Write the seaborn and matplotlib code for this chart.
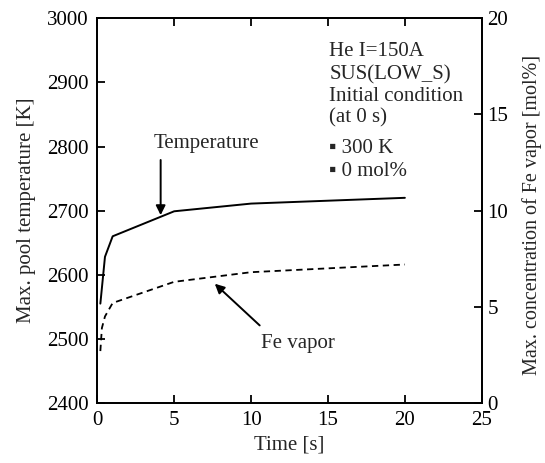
import matplotlib
matplotlib.use("Agg")
import matplotlib.pyplot as plt
import seaborn as sns
import pandas as pd

# Time history of max pool temperature and max Fe vapor concentration
time_temp = [0.2, 0.5, 1.0, 5.0, 10.0, 20.0]
temperature = [2555, 2628, 2660, 2699, 2711, 2720]

time_fe = [0.2, 0.3, 0.5, 1.0, 5.0, 10.0, 20.0]
fe_vapor = [2.7, 3.9, 4.5, 5.2, 6.3, 6.8, 7.2]

x_ticks = [0, 5, 10, 15, 20, 25]
t_ticks = [2400, 2500, 2600, 2700, 2800, 2900, 3000]
c_ticks = [0, 5, 10, 15, 20]

condition_lines = ["He I=150A", "SUS(LOW_S)", "Initial condition", "(at 0 s)"]
initial_values = ["\u25aa 300 K", "\u25aa 0 mol%"]

FS = 15

sns.set_theme(style="ticks")
plt.rcParams["font.family"] = ["Liberation Serif", "DejaVu Serif"]
plt.rcParams["font.size"] = FS

fig = plt.figure(figsize=(5.45, 4.63), dpi=100)
ax = fig.add_axes([0.1785, 0.1296, 0.7055, 0.8309])
ax2 = ax.twinx()

df_t = pd.DataFrame({"time": time_temp, "temp": temperature})
df_c = pd.DataFrame({"time": time_fe, "conc": fe_vapor})

sns.lineplot(data=df_t, x="time", y="temp", ax=ax, color="black", lw=1.4,
             sort=False, estimator=None)
sns.lineplot(data=df_c, x="time", y="conc", ax=ax2, color="black", lw=1.3,
             sort=False, estimator=None, linestyle=(0, (3.5, 2.5)))

ax.set_xlim(0, 25)
ax.set_ylim(2400, 3000)
ax2.set_ylim(0, 20)
ax.set_xticks(x_ticks)
ax.set_yticks(t_ticks)
ax2.set_yticks(c_ticks)

for spine in list(ax.spines.values()) + list(ax2.spines.values()):
    spine.set_linewidth(1.3)
    spine.set_color("black")
    spine.set_visible(True)

ax.tick_params(axis="x", direction="in", length=6, width=1.3, top=True,
               bottom=True, pad=6, labelsize=FS, colors="black")
ax.tick_params(axis="y", direction="in", length=6, width=1.3, left=True,
               right=False, pad=6, labelsize=FS, colors="black")
ax2.tick_params(axis="y", direction="in", length=6, width=1.3, right=True,
                pad=4, labelsize=FS, colors="black")

ax.set_xlabel("Time [s]", fontsize=FS)
ax.set_ylabel("Max. pool temperature [K]", fontsize=FS)
ax2.set_ylabel("Max. concentration of Fe vapor [mol%]", fontsize=14.5)
ax.yaxis.set_label_coords(-0.16, 0.5)
ax2.yaxis.set_label_coords(1.104, 0.49)
ax.xaxis.set_label_coords(0.5, -0.085)

# Condition notes
y_pos = [0.913, 0.853, 0.797, 0.741]
for txt, yy in zip(condition_lines, y_pos):
    ax.text(0.6035, yy, txt, transform=ax.transAxes, ha="left", va="center",
            fontsize=FS)
for txt, yy in zip(initial_values, [0.662, 0.601]):
    ax.text(0.6035, yy, txt, transform=ax.transAxes, ha="left", va="center",
            fontsize=FS)

# Curve labels with arrows
ax.text(7.07, 2805, "Temperature", ha="center", va="center", fontsize=FS)
ax.annotate("", xy=(4.12, 2693), xytext=(4.12, 2779),
            arrowprops=dict(arrowstyle="-|>", color="black", lw=1.4,
                            mutation_scale=14, shrinkA=0, shrinkB=0))
ax.text(13.07, 2493, "Fe vapor", ha="center", va="center", fontsize=FS)
ax.annotate("", xy=(7.64, 2586), xytext=(10.56, 2521),
            arrowprops=dict(arrowstyle="-|>", color="black", lw=1.4,
                            mutation_scale=14, shrinkA=0, shrinkB=0))

fig.savefig("out.png", dpi=100)
